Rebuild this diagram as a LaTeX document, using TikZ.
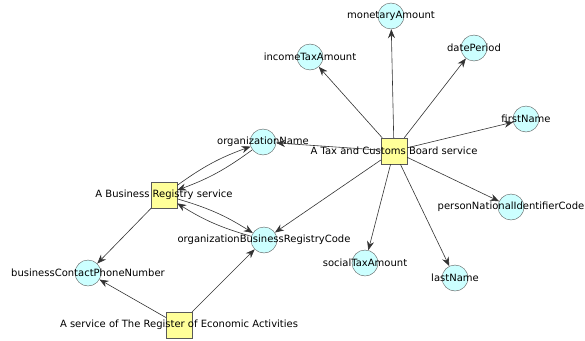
\documentclass[tikz,border=0pt]{standalone}
\usepackage{fontspec}
\setmainfont{DejaVu Sans}
\usetikzlibrary{arrows.meta}

\definecolor{attrfill}{RGB}{204,255,255}
\definecolor{svcfill}{RGB}{255,255,153}

\begin{document}
\begin{tikzpicture}[x=1pt, y=-1pt,
		attr/.style = {circle, draw=black!65, fill=attrfill, minimum size=26pt, inner sep=0pt},
		svc/.style = {rectangle, draw=black!65, fill=svcfill, minimum size=26pt, inner sep=0pt},
		tag/.style = {font=\fontsize{10}{12}\selectfont, inner sep=0pt},
		link/.style = {draw=black!80, line width=0.6pt, -{Stealth[length=9pt, width=7pt]}}]

	\useasboundingbox (0,0) rectangle (585,340);

	\begin{scope}
		\node [svc, label={[tag]center:A Tax and Customs Board service}] (tax) at (394,151) {};
		\node [svc, label={[tag]center:A Business Registry service}] (breg) at (164,195) {};
		\node [svc, label={[tag]center:A service of The Register of Economic Activities}] (rea) at (179,325) {};
	\end{scope}

	\begin{scope}
		\node [attr, label={[tag]center:monetaryAmount}] (money) at (391,16) {};
		\node [attr, label={[tag]center:incomeTaxAmount}] (incometax) at (310,57) {};
		\node [attr, label={[tag]center:datePeriod}] (period) at (474,48) {};
		\node [attr, label={[tag]center:firstName}] (firstname) at (526,119) {};
		\node [attr, label={[tag]center:organizationName}] (orgname) at (263,142) {};
		\node [attr, label={[tag]center:organizationBusinessRegistryCode}] (orgcode) at (264,240) {};
		\node [attr, label={[tag]center:businessContactPhoneNumber}] (phone) at (88,273) {};
		\node [attr, label={[tag]center:personNationalIdentifierCode}] (personcode) at (511,207) {};
		\node [attr, label={[tag]center:socialTaxAmount}] (socialtax) at (365,263) {};
		\node [attr, label={[tag]center:lastName}] (lastname) at (455,278) {};
	\end{scope}

	\begin{scope}[link]
		\draw (tax) -- (money);
		\draw (tax) -- (incometax);
		\draw (tax) -- (period);
		\draw (tax) -- (firstname);
		\draw (tax) -- (orgname);
		\draw (tax) -- (orgcode);
		\draw (tax) -- (personcode);
		\draw (tax) -- (socialtax);
		\draw (tax) -- (lastname);

		\draw (breg) to [bend left=8] (orgname);
		\draw (orgname) to [bend left=8] (breg);
		\draw (breg) to [bend left=8] (orgcode);
		\draw (orgcode) to [bend left=8] (breg);
		\draw (breg) -- (phone);

		\draw (rea) -- (phone);
		\draw (rea) -- (orgcode);
	\end{scope}
\end{tikzpicture}
\end{document}
